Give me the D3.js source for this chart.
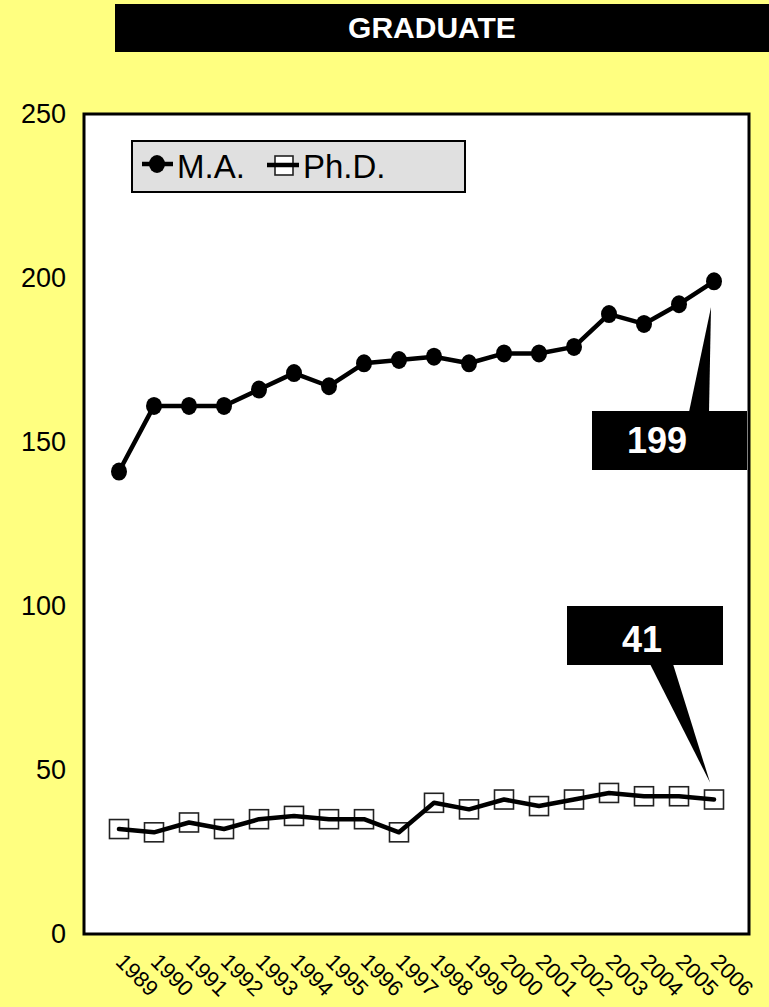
<!DOCTYPE html>
<html>
<head>
<meta charset="utf-8">
<script src="https://cdn.jsdelivr.net/npm/d3@7"></script>
<style>
  html, body { margin: 0; padding: 0; background: #ffff80; }
  svg { display: block; }
  text { font-family: "Liberation Sans", Arial, sans-serif; }
</style>
</head>
<body>
<script>
const title = "GRADUATE";
const years = ["1989","1990","1991","1992","1993","1994","1995","1996","1997","1998","1999","2000","2001","2002","2003","2004","2005","2006"];
const maValues = [141,161,161,161,166,171,167,174,175,176,174,177,177,179,189,186,192,199];
const phdValues = [32,31,34,32,35,36,35,35,31,40,38,41,39,41,43,42,42,41];
const seriesNames = ["M.A.", "Ph.D."];
const yTicks = [0,50,100,150,200,250];

const W = 769, H = 1007;
const svg = d3.select("body").append("svg").attr("width", W).attr("height", H);

svg.append("rect").attr("x",0).attr("y",0).attr("width",W).attr("height",H).attr("fill","#ffff80");

// Title bar
svg.append("rect").attr("x",115).attr("y",4).attr("width",W-115+5).attr("height",48).attr("fill","#000");
svg.append("text").attr("x",432).attr("y",38).attr("text-anchor","middle")
  .attr("fill","#fff").attr("font-weight","bold").attr("font-size",30).text(title);

const plot = {left:84, right:749, top:114, bottom:934};
const x = d3.scalePoint().domain(years).range([plot.left, plot.right]).padding(1);
const y = d3.scaleLinear().domain([0,250]).range([plot.bottom, plot.top]);

svg.append("rect").attr("x",plot.left).attr("y",plot.top)
  .attr("width",plot.right-plot.left).attr("height",plot.bottom-plot.top)
  .attr("fill","#fff").attr("stroke","#000").attr("stroke-width",3);

// Y axis labels
const yAxis = d3.axisLeft(y).tickValues(yTicks).tickSize(0).tickPadding(18);
const yg = svg.append("g").attr("transform",`translate(${plot.left},0)`).call(yAxis);
yg.select(".domain").remove();
yg.selectAll("text").attr("font-size",27).attr("fill","#000")
  .attr("font-family","Liberation Sans, Arial, sans-serif");

// X axis labels rotated
const xAxis = d3.axisBottom(x).tickSize(0).tickPadding(0);
const xg = svg.append("g").attr("transform",`translate(0,${plot.bottom})`).call(xAxis);
xg.select(".domain").remove();
xg.selectAll("text")
  .attr("font-size",22).attr("fill","#000")
  .attr("font-family","Liberation Sans, Arial, sans-serif")
  .attr("text-anchor","start")
  .attr("dy",null)
  .attr("y",0)
  .attr("transform","translate(-5,29) rotate(45)");

// Ph.D. series: squares then line on top
const line = d3.line().x((d,i)=>x(years[i])).y(d=>y(d));
svg.append("g").selectAll("rect").data(phdValues).join("rect")
  .attr("x",(d,i)=>x(years[i])-9.5).attr("y",d=>y(d)-9.5)
  .attr("width",19).attr("height",19)
  .attr("fill","#fff").attr("stroke","#222").attr("stroke-width",1.6);
svg.append("path").datum(phdValues).attr("d",line)
  .attr("fill","none").attr("stroke","#000").attr("stroke-width",4.5)
  .attr("stroke-linejoin","round").attr("stroke-linecap","round");

// M.A. series
svg.append("path").datum(maValues).attr("d",line)
  .attr("fill","none").attr("stroke","#000").attr("stroke-width",4.5)
  .attr("stroke-linejoin","round");
svg.append("g").selectAll("ellipse").data(maValues).join("ellipse")
  .attr("cx",(d,i)=>x(years[i])).attr("cy",d=>y(d))
  .attr("rx",8).attr("ry",9).attr("fill","#000");

// Legend
const lg = svg.append("g");
lg.append("rect").attr("x",132).attr("y",141).attr("width",333).attr("height",51)
  .attr("fill","#e0e0e0").attr("stroke","#000").attr("stroke-width",2);
lg.append("line").attr("x1",142).attr("x2",173).attr("y1",164).attr("y2",164)
  .attr("stroke","#000").attr("stroke-width",4.5);
lg.append("ellipse").attr("cx",157).attr("cy",164).attr("rx",8).attr("ry",9).attr("fill","#000");
lg.append("text").attr("x",177).attr("y",178).attr("font-size",33).attr("fill","#000").text(seriesNames[0]);
lg.append("rect").attr("x",275).attr("y",156).attr("width",18).attr("height",19)
  .attr("fill","#fff").attr("stroke","#222").attr("stroke-width",1.6);
lg.append("line").attr("x1",267).attr("x2",299).attr("y1",165).attr("y2",165)
  .attr("stroke","#000").attr("stroke-width",4.5);
lg.append("text").attr("x",303).attr("y",178).attr("font-size",33).attr("fill","#000").text(seriesNames[1]);

// Callouts
const lastI = years.length - 1;
const maTipX = x(years[lastI]) - 3, maTipY = y(maValues[lastI]) + 26;
svg.append("polygon")
  .attr("points", `689,412 709,412 ${maTipX},${maTipY}`).attr("fill","#000");
svg.append("rect").attr("x",592).attr("y",411).attr("width",155).attr("height",59).attr("fill","#000");
svg.append("text").attr("x",657).attr("y",453).attr("text-anchor","middle")
  .attr("fill","#fff").attr("font-weight","bold").attr("font-size",36).text(maValues[lastI]);

const phdTipX = x(years[lastI]) - 4, phdTipY = y(phdValues[lastI]) - 17;
svg.append("polygon")
  .attr("points", `650,664 673,664 ${phdTipX},${phdTipY}`).attr("fill","#000");
svg.append("rect").attr("x",567).attr("y",606).attr("width",156).attr("height",59).attr("fill","#000");
svg.append("text").attr("x",642).attr("y",652).attr("text-anchor","middle")
  .attr("fill","#fff").attr("font-weight","bold").attr("font-size",36).text(phdValues[lastI]);
</script>
</body>
</html>
